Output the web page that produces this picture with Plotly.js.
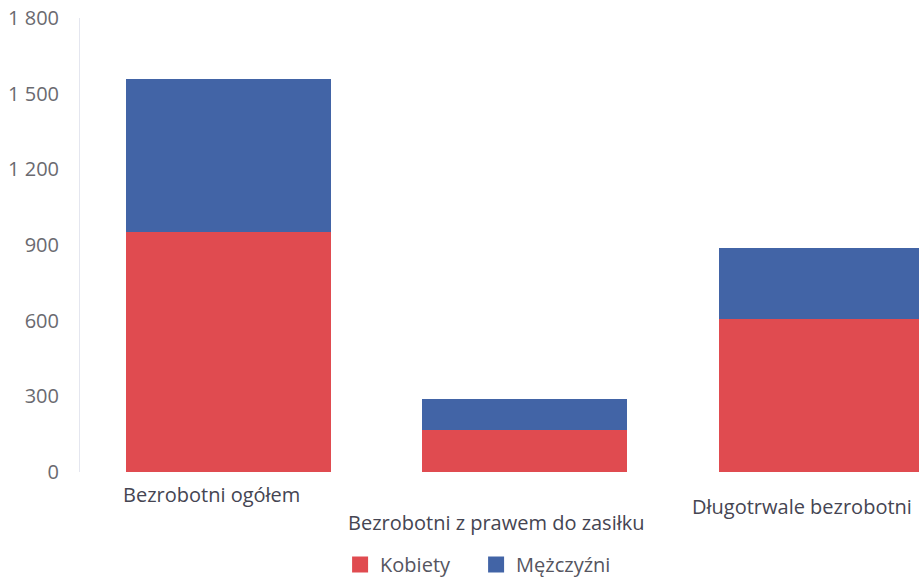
<!DOCTYPE html>
<html>
<head>
<meta charset="utf-8">
<script src="https://cdn.plot.ly/plotly-3.0.1.min.js"></script>
<style>html,body{margin:0;padding:0;background:#fff;overflow:hidden;}</style>
</head>
<body>
<div id="chart" style="width:919px;height:584px;"></div>
<script>
const categories = ["Bezrobotni ogółem", "Bezrobotni z prawem do zasiłku", "Długotrwale bezrobotni"];
const kobiety = [950, 165, 605];
const mezczyzni = [610, 125, 285];
const seriesNames = ["Kobiety", "Mężczyźni"];
const seriesColors = ["#e04b50", "#4264a6"];
const yTicks = [0, 300, 600, 900, 1200, 1500, 1800];

const labelY = [-0.05, -0.112, -0.077];
const labelShift = [-17, -28, -19];

const FONT = "Open Sans, sans-serif";

const traces = [
  {type: "bar", name: seriesNames[0], x: categories, y: kobiety, marker: {color: seriesColors[0]}, hoverinfo: "skip", showlegend: false},
  {type: "bar", name: seriesNames[1], x: categories, y: mezczyzni, marker: {color: seriesColors[1]}, hoverinfo: "skip", showlegend: false},
  {type: "scatter", mode: "markers", name: seriesNames[0], x: [categories[0]], y: [null], marker: {symbol: "square", size: 18, color: seriesColors[0]}, hoverinfo: "skip"},
  {type: "scatter", mode: "markers", name: seriesNames[1], x: [categories[0]], y: [null], marker: {symbol: "square", size: 18, color: seriesColors[1]}, hoverinfo: "skip"}
];

const annotations = categories.map((c, i) => ({
  x: c, xref: "x", y: labelY[i], yref: "paper", yanchor: "middle", xanchor: "center",
  xshift: labelShift[i], text: c, showarrow: false,
  font: {family: FONT, size: 20, color: "#454552"}
}));

const layout = {
  width: 919, height: 584,
  margin: {l: 80, r: 0, t: 18, b: 111},
  paper_bgcolor: "#fff", plot_bgcolor: "#fff",
  barmode: "stack", bargap: 0.31,
  separators: ", ",
  xaxis: {type: "category", range: [-0.5, 2.33], showticklabels: false, showgrid: false, zeroline: false, showline: false, fixedrange: true},
  yaxis: {range: [0, 1800], tickvals: yTicks, tickformat: ",d", showgrid: false, zeroline: false,
    showline: true, linecolor: "#e4e6ef", linewidth: 1, ticks: "", ticklabelstandoff: 16,
    tickfont: {family: FONT, size: 20, color: "#6a6a70"}},
  showlegend: true,
  legend: {orientation: "h", x: 0.31, xanchor: "left", y: -0.205, yanchor: "middle", traceorder: "normal",
    itemsizing: "trace", font: {family: FONT, size: 20, color: "#555560"}, itemwidth: 30,
    entrywidth: 91, entrywidthmode: "pixels"},
  annotations: annotations
};

Plotly.newPlot("chart", traces, layout, {displayModeBar: false, staticPlot: true});
</script>
</body>
</html>
